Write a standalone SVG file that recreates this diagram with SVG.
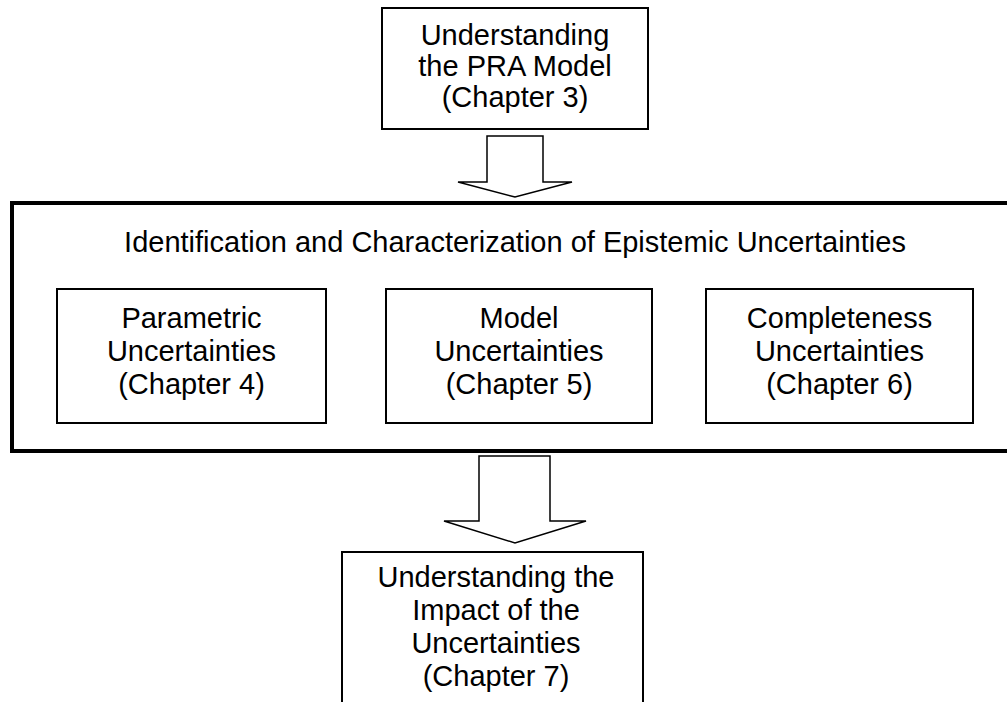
<svg xmlns="http://www.w3.org/2000/svg" width="1007" height="702" viewBox="0 0 1007 702">
  <style>
    .box { fill: #ffffff; stroke: #000000; stroke-width: 2; }
    .frame { fill: #ffffff; stroke: #000000; stroke-width: 4; }
    .arrow { fill: #ffffff; stroke: #000000; stroke-width: 1.5; stroke-linejoin: miter; }
    text { font-family: "Liberation Sans", Arial, sans-serif; font-size: 29px; fill: #000000; text-anchor: middle; }
  </style>
  <rect width="1007" height="702" fill="#ffffff"/>

  <!-- outer frame around the uncertainty categories -->
  <g id="epistemic-frame">
    <rect class="frame" x="12" y="203" width="997" height="248"/>
    <text x="515" y="252">Identification and Characterization of Epistemic Uncertainties</text>
  </g>

  <g id="pra-model">
    <rect class="box" x="382" y="8" width="266" height="121"/>
    <text x="515" y="45">Understanding</text>
    <text x="515" y="76">the PRA Model</text>
    <text x="515" y="107">(Chapter 3)</text>
  </g>

  <g id="parametric">
    <rect class="box" x="57" y="289" width="269" height="134"/>
    <text x="191.5" y="328">Parametric</text>
    <text x="191.5" y="361">Uncertainties</text>
    <text x="191.5" y="394">(Chapter 4)</text>
  </g>

  <g id="model">
    <rect class="box" x="386" y="289" width="266" height="134"/>
    <text x="519" y="328">Model</text>
    <text x="519" y="361">Uncertainties</text>
    <text x="519" y="394">(Chapter 5)</text>
  </g>

  <g id="completeness">
    <rect class="box" x="706" y="289" width="267" height="134"/>
    <text x="839.5" y="328">Completeness</text>
    <text x="839.5" y="361">Uncertainties</text>
    <text x="839.5" y="394">(Chapter 6)</text>
  </g>

  <g id="impact">
    <rect class="box" x="342" y="552" width="301" height="170"/>
    <text x="496" y="587">Understanding the</text>
    <text x="496" y="620">Impact of the</text>
    <text x="496" y="653">Uncertainties</text>
    <text x="496" y="686">(Chapter 7)</text>
  </g>

  <!-- block arrows between stages -->
  <g id="connectors">
    <polygon class="arrow" points="487,136 543,136 543,182 572,182 515,197 458,182 487,182"/>
    <polygon class="arrow" points="479,456 550,456 550,521 586,521 515,543 444,521 479,521"/>
  </g>
</svg>
